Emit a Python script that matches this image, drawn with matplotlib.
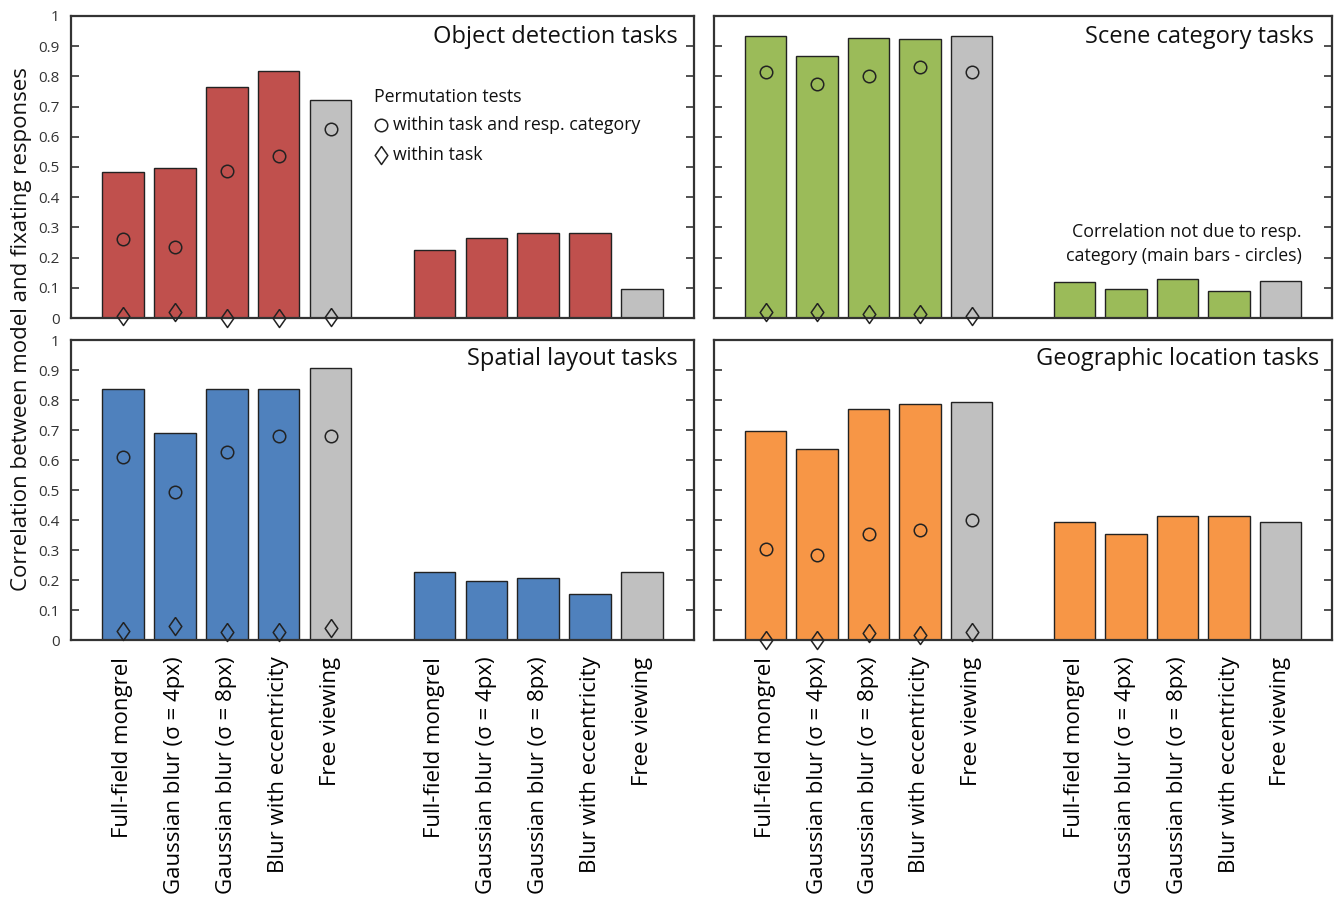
import matplotlib
matplotlib.use("Agg")
import matplotlib.pyplot as plt
import numpy as np

plt.rcParams['font.family'] = ['Open Sans', 'DejaVu Sans']

conditions = ["Full-field mongrel", "Gaussian blur (σ = 4px)", "Gaussian blur (σ = 8px)",
              "Blur with eccentricity", "Free viewing"]

titles = ["Object detection tasks", "Scene category tasks",
          "Spatial layout tasks", "Geographic location tasks"]

object_main = [0.485, 0.498, 0.765, 0.818, 0.723]
object_circle = [0.260, 0.234, 0.487, 0.537, 0.626]
object_diamond = [0.007, 0.021, 0.001, 0.001, 0.003]
object_diff = [0.225, 0.265, 0.280, 0.280, 0.097]

scene_main = [0.934, 0.868, 0.928, 0.923, 0.934]
scene_circle = [0.815, 0.774, 0.802, 0.831, 0.815]
scene_diamond = [0.019, 0.021, 0.013, 0.014, 0.008]
scene_diff = [0.120, 0.095, 0.128, 0.090, 0.121]

spatial_main = [0.837, 0.691, 0.837, 0.837, 0.908]
spatial_circle = [0.611, 0.493, 0.628, 0.681, 0.679]
spatial_diamond = [0.030, 0.048, 0.028, 0.027, 0.041]
spatial_diff = [0.227, 0.197, 0.207, 0.153, 0.227]

geo_main = [0.698, 0.637, 0.771, 0.786, 0.794]
geo_circle = [0.303, 0.283, 0.353, 0.366, 0.400]
geo_diamond = [0.000, 0.000, 0.022, 0.016, 0.026]
geo_diff = [0.393, 0.353, 0.413, 0.413, 0.393]

colors = ["#c0504d", "#9bbb59", "#4f81bd", "#f79646"]
gray = "#c0c0c0"

panels = [
    (object_main, object_circle, object_diamond, object_diff),
    (scene_main, scene_circle, scene_diamond, scene_diff),
    (spatial_main, spatial_circle, spatial_diamond, spatial_diff),
    (geo_main, geo_circle, geo_diamond, geo_diff),
]

diamond_marker = [(0, 1), (0.7, 0), (0, -1), (-0.7, 0), (0, 1)]

W, H = 1337, 905
fig = plt.figure(figsize=(W / 100, H / 100), dpi=100)

rects = [
    (71, 16, 694, 318),
    (714, 16, 1332, 318),
    (71, 340, 694, 640),
    (714, 340, 1332, 640),
]
title_x = [0.974, 0.971, 0.974, 0.979]
title_y = [0.93, 0.93, 0.937, 0.937]

edge = "#333333"
pos1 = np.arange(5)
pos2 = np.arange(5) + 6

for i, (main, circ, diam, diff) in enumerate(panels):
    x0, y0, x1, y1 = rects[i]
    ax = fig.add_axes([x0 / W, 1 - y1 / H, (x1 - x0) / W, (y1 - y0) / H])
    bar_cols = [colors[i]] * 4 + [gray]
    ax.bar(pos1, main, width=0.8, color=bar_cols, edgecolor="#222222", linewidth=1.0, zorder=2)
    ax.bar(pos2, diff, width=0.8, color=bar_cols, edgecolor="#222222", linewidth=1.0, zorder=2)
    ax.plot(pos1, circ, linestyle="none", marker="o", markersize=9, markerfacecolor="none",
            markeredgecolor="#222222", markeredgewidth=1.1, zorder=3, clip_on=False)
    ax.plot(pos1, diam, linestyle="none", marker=diamond_marker, markersize=13, markerfacecolor="none",
            markeredgecolor="#222222", markeredgewidth=1.1, zorder=3, clip_on=False)
    ax.set_xlim(-1, 11)
    ax.set_ylim(0, 1)
    ax.set_yticks(np.arange(0, 1.01, 0.1))
    ax.set_yticklabels(["0", "0.1", "0.2", "0.3", "0.4", "0.5", "0.6", "0.7", "0.8", "0.9", "1"])
    ax.tick_params(axis="y", direction="in", length=6, width=1.2, color=edge, left=True, right=True,
                   labelleft=(i % 2 == 0), labelsize=11, labelcolor="#333333", pad=8)
    ax.set_xticks(list(pos1) + list(pos2))
    if i >= 2:
        ax.set_xticklabels(conditions + conditions, rotation=90, fontsize=16, va="top", ha="center")
        ax.tick_params(axis="x", length=0, pad=12)
    else:
        ax.tick_params(axis="x", length=0, labelbottom=False)
    for s in ax.spines.values():
        s.set_color(edge)
        s.set_linewidth(1.6)
    ax.text(title_x[i], title_y[i], titles[i], transform=ax.transAxes, ha="right", va="center",
            fontsize=17, color="#111111")

    if i == 0:
        ax.text(0.486, 0.732, "Permutation tests", transform=ax.transAxes, ha="left", va="center",
                fontsize=12.8, color="#111111")
        ax.plot([0.497], [0.639], transform=ax.transAxes, marker="o", markersize=9,
                markerfacecolor="none", markeredgecolor="#222222", markeredgewidth=1.1, clip_on=False)
        ax.text(0.517, 0.639, "within task and resp. category", transform=ax.transAxes,
                ha="left", va="center", fontsize=12.8, color="#111111")
        ax.plot([0.497], [0.54], transform=ax.transAxes, marker=diamond_marker, markersize=13,
                markerfacecolor="none", markeredgecolor="#222222", markeredgewidth=1.1, clip_on=False)
        ax.text(0.517, 0.54, "within task", transform=ax.transAxes,
                ha="left", va="center", fontsize=12.8, color="#111111")
    if i == 1:
        ax.text(0.951, 0.285, "Correlation not due to resp.", transform=ax.transAxes,
                ha="right", va="center", fontsize=12.8, color="#111111")
        ax.text(0.951, 0.205, "category (main bars - circles)", transform=ax.transAxes,
                ha="right", va="center", fontsize=12.8, color="#111111")

fig.text(22 / W, 1 - 329 / H, "Correlation between model and fixating responses", rotation=90,
         ha="center", va="center", fontsize=16, color="#111111")

fig.savefig("out.png", dpi=100)
